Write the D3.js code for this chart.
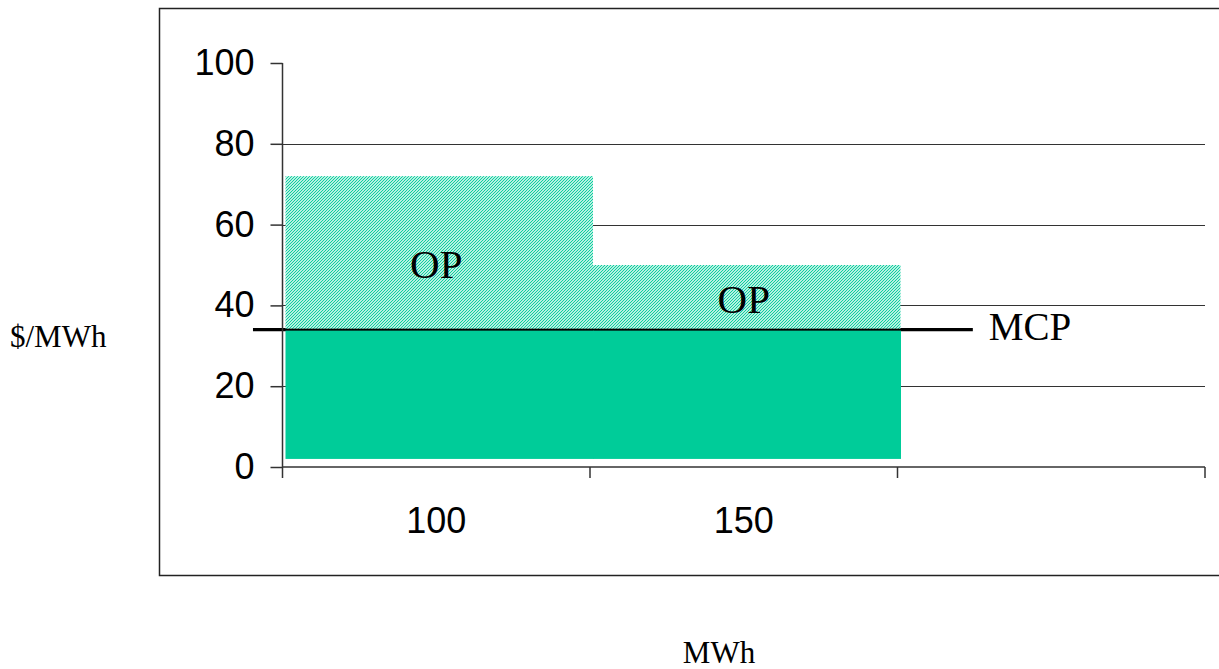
<!DOCTYPE html>
<html>
<head>
<meta charset="utf-8">
<script src="https://cdn.jsdelivr.net/npm/d3@7"></script>
<style>
  html, body { margin: 0; padding: 0; background: #fff; }
  svg { display: block; }
</style>
</head>
<body>
<svg id="chart" width="1219" height="669"></svg>
<script>
// Bid blocks: quantity categories and prices ($/MWh)
const categories = ["100", "150", ""];
const offerPrice = [72, 50];          // top of each offer block
const clearingPrice = 34;             // market clearing price (MCP)
const floorPrice = 2;                 // bottom of the paid portion
const yTicks = [0, 20, 40, 60, 80, 100];
const gridValues = [20, 40, 60, 80];
const blockLabels = ["OP", "OP"];

const teal = "#00CC99";
const svg = d3.select("#chart");

// Chart frame
svg.append("rect")
  .attr("x", 159.5).attr("y", 8.5)
  .attr("width", 1200).attr("height", 567)
  .attr("fill", "none").attr("stroke", "#222").attr("stroke-width", 1.5);

// Scales
const x = d3.scaleBand().domain(categories).range([282.5, 1205]).padding(0);
const xu = d3.scaleLinear().domain([0, categories.length]).range([282.5, 1205]);
const y = d3.scaleLinear().domain([0, 100]).range([467, 63]);

// Hatch pattern for the offer premium
const defs = svg.append("defs");
const pat = defs.append("pattern")
  .attr("id", "hatch").attr("patternUnits", "userSpaceOnUse")
  .attr("width", 3).attr("height", 3);
pat.append("rect").attr("width", 3).attr("height", 3).attr("fill", "#fff");
pat.append("path")
  .attr("d", "M-1,1 l2,-2 M0,3 l3,-3 M2,4 l2,-2")
  .attr("stroke", teal).attr("stroke-width", 1.1);

// Grid lines
svg.append("g").selectAll("line").data(gridValues).join("line")
  .attr("x1", xu(0)).attr("x2", xu(categories.length))
  .attr("y1", d => Math.round(y(d)) + 0.5).attr("y2", d => Math.round(y(d)) + 0.5)
  .attr("stroke", "#333").attr("stroke-width", 1);

// MCP line (drawn first so the blocks sit over its centre)
svg.append("line")
  .attr("x1", xu(-0.096)).attr("x2", xu(2.245))
  .attr("y1", y(clearingPrice)).attr("y2", y(clearingPrice))
  .attr("stroke", "#000").attr("stroke-width", 3.2);

// Offer blocks: hatched premium above MCP, solid paid portion below
const shift = 3;
const blocks = svg.append("g");
blocks.selectAll("rect.premium").data(offerPrice).join("rect")
  .attr("class", "premium")
  .attr("x", (d, i) => x(categories[i]) + shift)
  .attr("width", x.bandwidth())
  .attr("y", d => y(d))
  .attr("height", d => y(clearingPrice) - y(d) - 1)
  .attr("fill", "url(#hatch)");
blocks.selectAll("rect.paid").data(offerPrice).join("rect")
  .attr("class", "paid")
  .attr("x", (d, i) => x(categories[i]) + shift)
  .attr("width", x.bandwidth() + 0.5)
  .attr("y", y(clearingPrice) + 1)
  .attr("height", y(floorPrice) - y(clearingPrice) - 1)
  .attr("fill", teal);

// Y axis
const yAxis = svg.append("g")
  .attr("transform", `translate(${xu(0)},0)`)
  .call(d3.axisLeft(y).tickValues(yTicks).tickSize(12).tickPadding(16).tickSizeOuter(0));
yAxis.select(".domain").remove();
yAxis.append("line")
  .attr("x1", 0).attr("x2", 0).attr("y1", y(100)).attr("y2", y(0) + 11)
  .attr("stroke", "#333").attr("stroke-width", 1.5);
yAxis.selectAll(".tick line").attr("stroke", "#333").attr("stroke-width", 1.5);
yAxis.selectAll(".tick text")
  .attr("font-family", "Liberation Sans, Arial, sans-serif")
  .attr("font-size", 36).attr("fill", "#000");

// X axis
const xAxis = svg.append("g")
  .attr("transform", `translate(0,${y(0)})`)
  .call(d3.axisBottom(x).tickSize(0).tickPadding(40).tickSizeOuter(0));
xAxis.select(".domain").remove();
xAxis.append("line")
  .attr("x1", xu(0)).attr("x2", xu(categories.length)).attr("y1", 0).attr("y2", 0)
  .attr("stroke", "#333").attr("stroke-width", 1.5);
xAxis.selectAll("line.bound").data(d3.range(1, categories.length + 1)).join("line")
  .attr("class", "bound")
  .attr("x1", d => xu(d)).attr("x2", d => xu(d)).attr("y1", 0).attr("y2", 11)
  .attr("stroke", "#333").attr("stroke-width", 1.5);
xAxis.selectAll(".tick text")
  .attr("font-family", "Liberation Sans, Arial, sans-serif")
  .attr("font-size", 36).attr("fill", "#000");

// Block labels
const serif = "Liberation Serif, Times New Roman, serif";
const labelValue = [46.8, 38.1];
svg.append("g").selectAll("text").data(blockLabels).join("text")
  .attr("x", (d, i) => x(categories[i]) + x.bandwidth() / 2 + shift - 3)
  .attr("y", (d, i) => y(labelValue[i]))
  .attr("text-anchor", "middle")
  .attr("font-family", serif).attr("font-size", 41).attr("fill", "#000")
  .text(d => d);

svg.append("text")
  .attr("x", xu(2.245) + 16).attr("y", y(clearingPrice) + 10)
  .attr("font-family", serif).attr("font-size", 39).attr("fill", "#000")
  .text("MCP");

// Axis titles
svg.append("text")
  .attr("x", 10).attr("y", 347)
  .attr("font-family", serif).attr("font-size", 31).attr("fill", "#000")
  .text("$/MWh");
svg.append("text")
  .attr("x", 719).attr("y", 663)
  .attr("text-anchor", "middle")
  .attr("font-family", serif).attr("font-size", 31).attr("fill", "#000")
  .text("MWh");
</script>
</body>
</html>
